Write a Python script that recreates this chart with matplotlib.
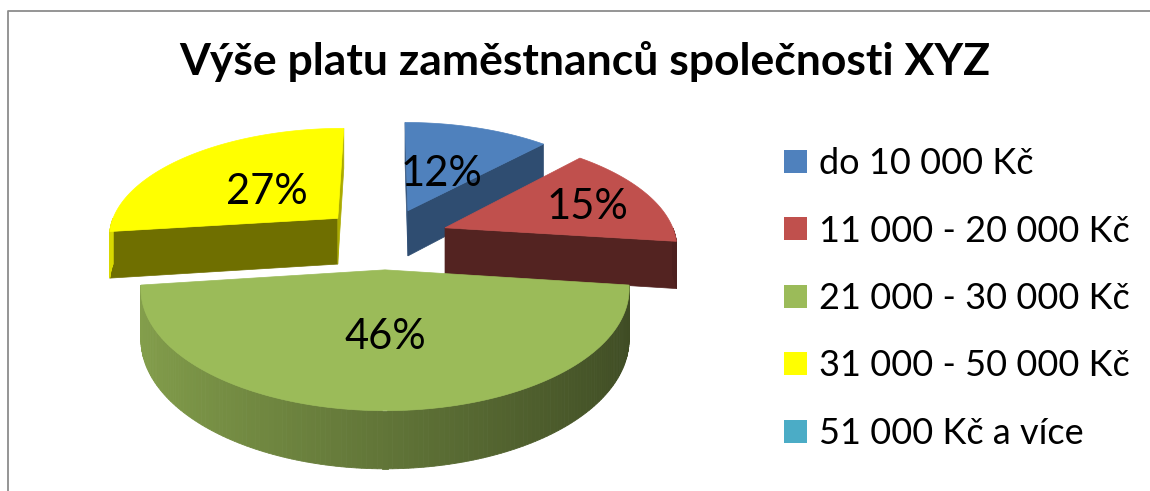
import numpy as np
import matplotlib.pyplot as plt
import matplotlib.colors as mcolors
from matplotlib.patches import Polygon, Rectangle

plt.rcParams['font.family'] = ['Lato', 'DejaVu Sans']

title = "Výše platu zaměstnanců společnosti XYZ"
categories = ["do 10 000 Kč", "11 000 - 20 000 Kč", "21 000 - 30 000 Kč",
              "31 000 - 50 000 Kč", "51 000 Kč a více"]
shares = [12, 15, 46, 27, 0]
colors = ["#4F81BD", "#C0504D", "#9BBB59", "#FFFF00", "#4BACC6"]

# tilted pie, drawn in pixel space
cx, cy = 385, 238      # centre of the pie
A, B = 231, 109        # horizontal / vertical radius
p = 0.15               # perspective
H = 47                 # thickness
explode = 0.28
cam_v = -1 / p
lab_r = [0.45, 0.7, 0.5, 0.45, 0.5]


def proj(u, v, down=0.0):
    s = 1 / (1 + p * v)
    return (cx + A * u * s, cy - B * v * s + H * s * down)


def shade(c, f):
    r, g, b = mcolors.to_rgb(c)
    return (r * f, g * f, b * f)


fig = plt.figure(figsize=(11.5, 4.91), dpi=100)
ax = fig.add_axes([0, 0, 1, 1])
ax.set_xlim(0, 1150)
ax.set_ylim(491, 0)
ax.axis('off')

# chart frame
ax.plot([7.5, 7.5, 1150], [491, 11, 11], color='#8c8c8c', lw=1.3)

# slice bounds, clockwise from 12 o'clock
total = sum(shares)
bounds = []
t = 90.0
for s in shares:
    t2 = t - 360.0 * s / total
    bounds.append((t2, t))
    t = t2

mids = [np.radians((a + b) / 2) for a, b in bounds]
order = sorted(range(len(shares)), key=lambda i: -np.sin(mids[i]))

for i in order:
    if shares[i] == 0:
        continue
    a, b = np.radians(bounds[i][0]), np.radians(bounds[i][1])
    m = mids[i]
    ox, oy = explode * np.cos(m), explode * np.sin(m)
    col = colors[i]

    # radial cut faces
    for phi, n in ((b, (-np.sin(b), np.cos(b))), (a, (np.sin(a), -np.cos(a)))):
        if -ox * n[0] + (cam_v - oy) * n[1] > 0:
            uv = [(ox, oy), (ox + np.cos(phi), oy + np.sin(phi))]
            top = [proj(u, v) for u, v in uv]
            bot = [proj(u, v, 1) for u, v in uv[::-1]]
            fc = shade(col, 0.4 + 0.27 * abs(n[0]))
            ax.add_patch(Polygon(top + bot, closed=True, fc=fc, ec=fc, lw=0.5))

    # outer wall with a left-to-right gradient
    th = np.linspace(b, a, 160)
    for t0, t1 in zip(th[:-1], th[1:]):
        tm = (t0 + t1) / 2
        if np.sin(tm) >= 0:
            continue
        p0 = (ox + np.cos(t0), oy + np.sin(t0))
        p1 = (ox + np.cos(t1), oy + np.sin(t1))
        quad = [proj(*p0), proj(*p1), proj(*p1, 1), proj(*p0, 1)]
        fc = shade(col, 0.85 - 0.45 * (np.cos(tm) + 1) / 2)
        ax.add_patch(Polygon(quad, closed=True, fc=fc, ec=fc, lw=0.6))

    # top face
    pts = [proj(ox, oy)] + [proj(ox + np.cos(x), oy + np.sin(x)) for x in th]
    ax.add_patch(Polygon(pts, closed=True, fc=col, ec=col, lw=0.5))

    # percentage label
    lx, ly = proj((explode + lab_r[i]) * np.cos(m), (explode + lab_r[i]) * np.sin(m))
    ax.text(lx, ly + 15, f"{shares[i]}%", ha='center', va='baseline',
            fontsize=30, color='black')

ax.text(585, 75, title, ha='center', va='baseline', fontsize=32,
        fontweight='bold', color='black')

# legend
for k, (lab, col) in enumerate(zip(categories, colors)):
    yc = 161 + 67.5 * k
    ax.add_patch(Rectangle((784, yc - 11.5), 23, 23, fc=col, ec='none'))
    ax.text(819, yc + 13, lab, ha='left', va='baseline', fontsize=26,
            color='black')

fig.savefig('out.png', dpi=100)
